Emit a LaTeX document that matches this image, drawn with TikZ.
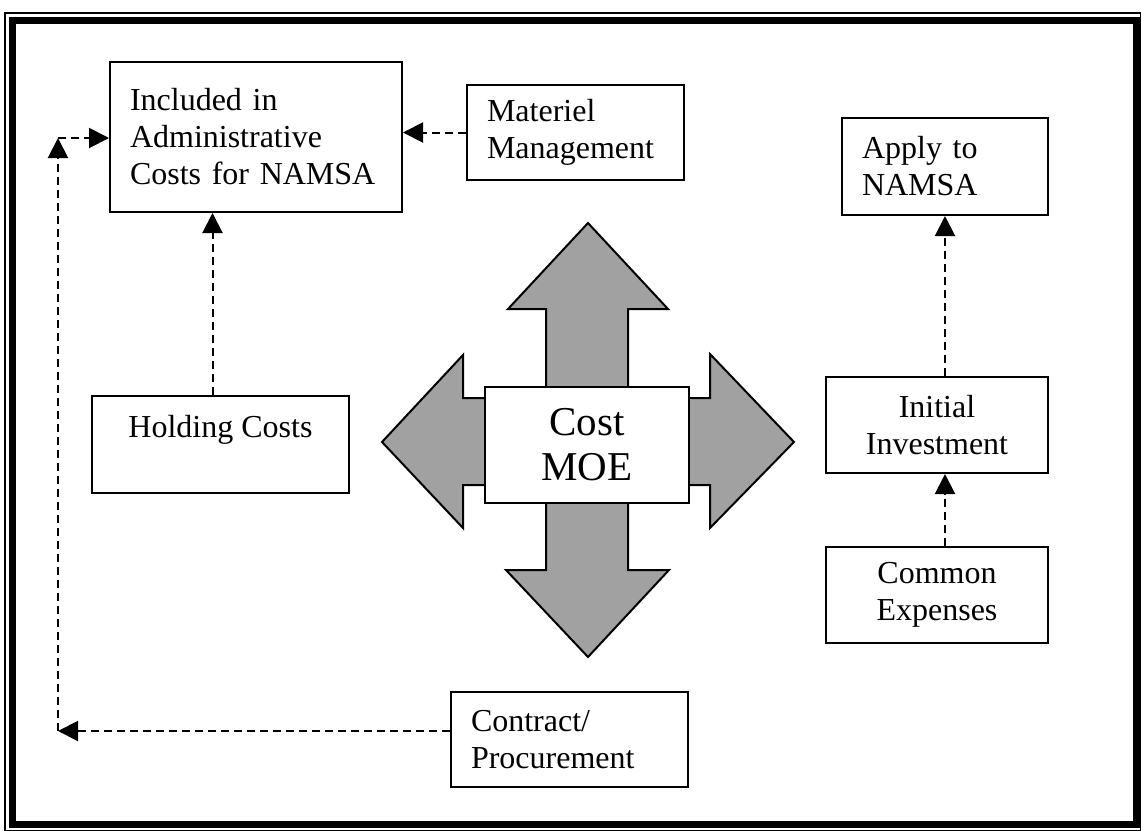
\documentclass[tikz,border=0pt]{standalone}
\usepackage{fontspec}
\setmainfont{Liberation Serif}
\usetikzlibrary{arrows.meta,positioning}

\tikzset{
    box/.style={draw, line width=1pt, fill=white, inner xsep=10pt, inner ysep=0pt,
        font=\fontsize{16}{18.5}\selectfont},
    leftbox/.style={box, align=left, text width=#1},
    midbox/.style={box, align=center, minimum width=#1},
    dashline/.style={dash pattern=on 4pt off 2.5pt, line width=1pt,
        -{Triangle[length=10pt,width=10pt]}}
}

\begin{document}
\begin{tikzpicture}[x=0.5pt,y=-0.5pt]
            \useasboundingbox (0,0) rectangle (1142,831);
            \draw[line width=0.75pt] (5,13) rectangle (1140.5,830.5);
            \draw[line width=3.5pt] (12.5,20) rectangle (1136,824.5);

            \node[leftbox=126pt, minimum height=75pt] (incl) at (256,137) {Included in\\Administrative\\Costs for NAMSA};
            \node[leftbox=88.5pt, minimum height=47.5pt] (mat) at (575.5,132.5) {Materiel\\Management};
            \node[leftbox=83pt, minimum height=48.5pt] (apply) at (945,166.5) {Apply to\\NAMSA};
            \node[midbox=111pt, minimum height=48pt] (init) at (937,425) {Initial\\Investment};
            \node[midbox=111pt, minimum height=48pt] (common) at (937,595) {Common\\Expenses};
            \node[midbox=128.5pt, minimum height=48.5pt] (hold) at (220.5,444.5) {Holding Costs\\~};
            \node[leftbox=98.5pt, minimum height=47.5pt] (contract) at (569.5,739.5) {Contract/\\Procurement};

            \filldraw[fill=black!37, line width=1pt, line join=miter]
                (588,223) -- (668,309) -- (628,309) -- (628,398) -- (710,398) -- (710,354)
                -- (794,442) -- (710,528) -- (710,485) -- (628,485) -- (628,570) -- (669,570)
                -- (588,657) -- (506,570) -- (546,570) -- (546,485) -- (463,485) -- (463,528)
                -- (382,442) -- (463,355) -- (463,398) -- (546,398) -- (546,309) -- (508,309) -- cycle;
            \node[midbox=102pt, minimum height=58pt, font=\fontsize{20.5}{22.5}\selectfont] (cost) at (587,445) {Cost\\MOE};

            \coordinate (cbend) at (58,731);
            \coordinate (ctop) at (58,138);
            \draw[dashline] (contract.west |- cbend) -- (cbend);
            \draw[dashline] (cbend) -- (ctop);
            \draw[dashline] (ctop) -- (ctop -| incl.west);
            \draw[dashline] (mat.west) -- (mat.west -| incl.east);
            \draw[dashline] ([xshift=-4pt]hold.north) -- ([xshift=-4pt]hold.north |- incl.south);
            \draw[dashline] (apply.south |- common.north) -- (apply.south |- init.south);
            \draw[dashline] (apply.south |- init.north) -- (apply.south);
        \end{tikzpicture}
\end{document}
